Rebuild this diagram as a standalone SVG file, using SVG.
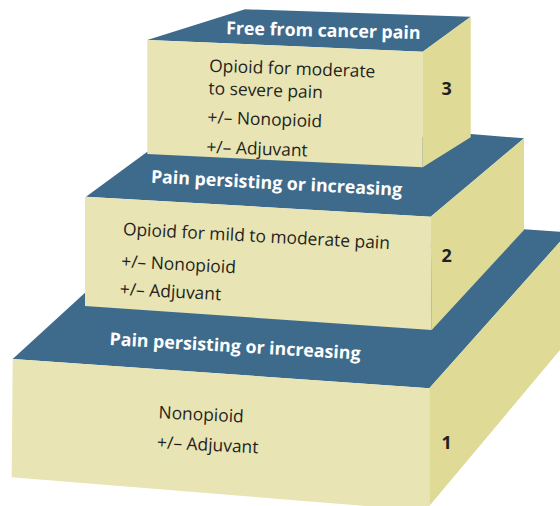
<svg xmlns="http://www.w3.org/2000/svg" width="560" height="506" viewBox="0 0 560 506">
  <style>
    .top { fill: #3e6b8c; }
    .front { fill: #e8e4b4; }
    .side { fill: #dfda95; }
    .head { font-family: "Open Sans", "Liberation Sans", sans-serif; font-weight: bold; font-size: 17.8px; fill: #ffffff; }
    .body { font-family: "Open Sans", "Liberation Sans", sans-serif; font-size: 17.4px; fill: #231f20; }
    .num { font-family: "Open Sans", "Liberation Sans", sans-serif; font-weight: bold; font-size: 18px; fill: #231f20; text-anchor: middle; }
  </style>
  <rect width="560" height="506" fill="#ffffff"/>

  <g id="step1">
    <polygon class="top" points="12.7,359 85,292.7 524,229.3 560,231.7 560,241.7 429.3,388.3"/>
    <polygon class="front" points="12.7,359 429.3,388.3 429.3,506 366,506 11.7,477.3"/>
    <polygon class="side" points="429.3,388.3 560,241.7 560,350 429.3,506"/>
    <text class="head" x="109.3" y="345" transform="rotate(3.3 109.3 345)">Pain persisting or increasing</text>
    <g transform="rotate(2.8 158.3 418.3)">
      <text class="body" x="158.3" y="418.3">Nonopioid</text>
      <text class="body" x="158.3" y="448.3">+/– Adjuvant</text>
    </g>
    <text class="num" x="446.7" y="449.3">1</text>
  </g>

  <g id="step2">
    <polygon class="top" points="86,196.7 147.3,151.7 470.7,134 524,138.3 430.7,216.7"/>
    <polygon class="front" points="85,196.7 430.7,216.7 431.7,330 85,306"/>
    <polygon class="side" points="430.7,216.7 524,138.3 524,230 431.7,330"/>
    <text class="head" x="150.7" y="182.7" transform="rotate(3 150.7 182.7)">Pain persisting or increasing</text>
    <g transform="rotate(3 122.7 235)">
      <text class="body" x="122.7" y="235">Opioid for mild to moderate pain</text>
      <text class="body" x="122.7" y="267.3">+/– Nonopioid</text>
      <text class="body" x="122.7" y="295">+/– Adjuvant</text>
    </g>
    <text class="num" x="446.7" y="261.7">2</text>
  </g>

  <g id="step3">
    <polygon class="top" points="147.3,40 245,9.3 470.7,16.7 422.7,51.7"/>
    <polygon class="front" points="147.3,40 422.7,51.7 422.7,167.3 147.3,154"/>
    <polygon class="side" points="422.7,51.7 470.7,16.7 470.7,137.3 422.7,167.3"/>
    <text class="head" x="226" y="34.3" transform="rotate(1.4 226 34.3)">Free from cancer pain</text>
    <g transform="rotate(2 209 71.7)">
      <text class="body" x="209" y="71.7">Opioid for moderate</text>
      <text class="body" x="209" y="94.3">to severe pain</text>
      <text class="body" x="209" y="123.3">+/– Nonopioid</text>
      <text class="body" x="209" y="153">+/– Adjuvant</text>
    </g>
    <text class="num" x="446.7" y="95">3</text>
  </g>
</svg>
